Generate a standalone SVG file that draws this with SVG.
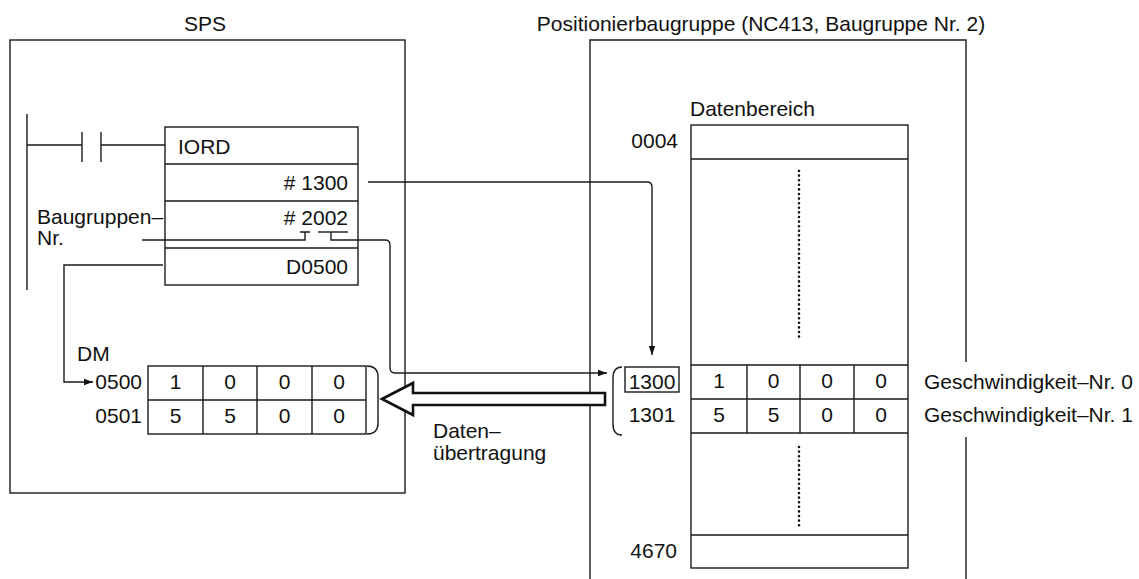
<svg xmlns="http://www.w3.org/2000/svg" width="1139" height="579" viewBox="0 0 1139 579">
<style>
text{font-family:"Liberation Sans",Arial,sans-serif;font-size:21px;fill:#111}
.ln{fill:none;stroke:#1a1a1a;stroke-width:1.4}
.bx{fill:#fff;stroke:#1a1a1a;stroke-width:1.4}
.dot{fill:none;stroke:#111;stroke-width:2.6;stroke-linecap:round;stroke-dasharray:0 4.6}
.r{text-anchor:end}
.m{text-anchor:middle}
.dg{letter-spacing:0.6px}
</style>
<defs>
<marker id="ah" markerUnits="userSpaceOnUse" markerWidth="10" markerHeight="8" refX="9" refY="4" orient="auto">
<path d="M0,0.8 L9,4 L0,7.2 Z" fill="#111"/>
</marker>
</defs>

<g id="titles">
<text x="205" y="31" class="m">SPS</text>
<text x="761" y="31" class="m">Positionierbaugruppe (NC413, Baugruppe Nr. 2)</text>
</g>

<g id="sps-box">
<rect x="10" y="40" width="395" height="453" class="bx"/>
</g>

<g id="module-box">
<path d="M590,579 V40 H966 V362 M966,437 V579" class="ln"/>
</g>

<g id="ladder">
<path d="M27,114 V290 M27,145 H82 M82,132 V162 M101,132 V162 M101,145 H165" class="ln"/>
</g>

<g id="iord">
<rect x="165" y="127" width="193" height="158" class="bx"/>
<path d="M165,164 H358 M165,201 H358 M165,248 H358" class="ln"/>
<text x="178" y="154">IORD</text>
<text x="348" y="190" class="r"># 1300</text>
<text x="348" y="225" class="r"># 2002</text>
<text x="348" y="274" class="r">D0500</text>
</g>

<g id="baugruppen-label">
<text x="37" y="224">Baugruppen–</text>
<text x="37" y="245">Nr.</text>
</g>

<g id="dm-table">
<text x="77" y="361">DM</text>
<text x="142" y="389" class="r">0500</text>
<text x="142" y="423" class="r">0501</text>
<rect x="148" y="366" width="218" height="68" class="bx"/>
<path d="M148,400 H366 M203,366 V434 M257,366 V434 M312,366 V434" class="ln"/>
<text x="175.5" y="389" class="m">1</text>
<text x="230" y="389" class="m">0</text>
<text x="284.5" y="389" class="m">0</text>
<text x="339" y="389" class="m">0</text>
<text x="175.5" y="423" class="m">5</text>
<text x="230" y="423" class="m">5</text>
<text x="284.5" y="423" class="m">0</text>
<text x="339" y="423" class="m">0</text>
<path d="M367,366 Q378,366 378,377 V423 Q378,434 367,434" class="ln"/>
</g>

<g id="data-area">
<text x="690" y="116">Datenbereich</text>
<text x="678" y="148" class="r">0004</text>
<rect x="691" y="125" width="217" height="443" class="bx"/>
<path d="M691,159 H908 M691,365 H908 M691,399 H908 M691,433 H908 M691,535 H908" class="ln"/>
<path d="M747,365 V433 M800,365 V433 M854,365 V433" class="ln"/>
<path d="M799,171 V340 M799,447 V527" class="dot"/>
<rect x="625" y="367" width="54" height="25" class="bx"/>
<text x="652" y="389" class="m">1300</text>
<text x="652" y="422" class="m">1301</text>
<path d="M622,367 Q613,367 613,378 V424 Q613,435 622,435" class="ln"/>
<text x="719" y="388" class="m">1</text>
<text x="773.5" y="388" class="m">0</text>
<text x="827" y="388" class="m">0</text>
<text x="881" y="388" class="m">0</text>
<text x="719" y="422" class="m">5</text>
<text x="773.5" y="422" class="m">5</text>
<text x="827" y="422" class="m">0</text>
<text x="881" y="422" class="m">0</text>
<text x="677" y="558" class="r">4670</text>
<text x="924" y="389">Geschwindigkeit–Nr. 0</text>
<text x="924" y="422">Geschwindigkeit–Nr. 1</text>
</g>

<g id="connectors">
<path d="M368,182 H647 Q652,182 652,187 V355" class="ln" marker-end="url(#ah)"/>
<path d="M300,232 H310 M305,232 V240 H142" class="ln"/>
<path d="M318,232 H348" class="ln"/>
<path d="M331,232 V240 H385 Q390,240 390,245 V368 Q390,373 395,373 H607" class="ln" marker-end="url(#ah)"/>
<path d="M163,265 H64 V382 H93" class="ln" marker-end="url(#ah)"/>
<polygon points="382,399 413,383 413,393 605,393 605,405 413,405 413,415" fill="#fff" stroke="#111" stroke-width="2.6" stroke-linejoin="miter"/>
<text x="433" y="438">Daten–</text>
<text x="433" y="460">übertragung</text>
</g>
</svg>
